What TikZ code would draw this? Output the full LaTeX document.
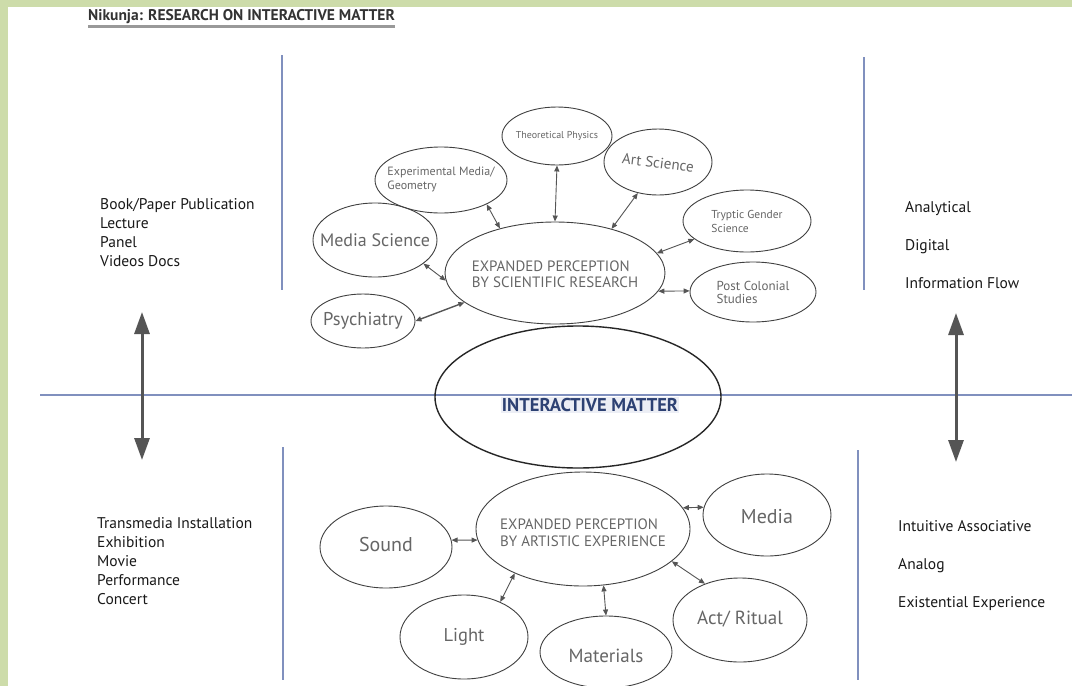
\documentclass[tikz,border=0pt]{standalone}
\usepackage{fontspec}
\setmainfont{PT Sans}
\usetikzlibrary{shapes.geometric,arrows.meta}

\definecolor{framegreen}{RGB}{205,220,170}
\definecolor{rulerblue}{RGB}{128,144,190}
\definecolor{inkgray}{RGB}{85,85,85}
\definecolor{matterblue}{RGB}{45,65,115}

\newcommand{\inbubble}[2][0pt]{\raisebox{\dimexpr-0.25em-#1\relax}[0pt][0pt]{\makebox[0pt]{\begin{tabular}{@{}l@{}}#2\end{tabular}}}}

\tikzset{
    bubble/.style={ellipse, draw=black!75, line width=0.9pt, inner sep=0pt, text=black!60},
    link/.style={{Triangle[length=6pt,width=5pt]}-{Triangle[length=6pt,width=5pt]}, draw=inkgray, line width=0.9pt},
    bigarrow/.style={{Triangle[length=22pt,width=15pt]}-{Triangle[length=22pt,width=15pt]}, draw=inkgray, line width=3pt},
    ruler/.style={draw=rulerblue, line width=1.4pt},
    listtext/.style={anchor=north west, align=left, inner sep=0pt, text=black!90},
}

\begin{document}
\begin{tikzpicture}[x=1pt, y=-1pt]
            \useasboundingbox (0,0) rectangle (1072,686);
            \fill[white] (0,0) rectangle (1072,686);
            \fill[framegreen] (0,0) rectangle (1072,7);
            \fill[framegreen] (0,0) rectangle (8,686);

            \node[anchor=west, inner sep=0pt, font=\bfseries\fontsize{15.5}{17}\selectfont, text=black!80] (title) at (88,17) {Nikunja: RESEARCH ON INTERACTIVE MATTER};
            \draw[black!40, line width=2.5pt] ([yshift=-2pt]title.south west) -- ([yshift=-2pt]title.south east);

            \draw[ruler] (40,395) -- (1072,395);
            \draw[ruler] (282,55) -- (282,290);
            \draw[ruler] (864,57) -- (864,290);
            \draw[ruler] (283,447) -- (283,680);
            \draw[ruler] (858,450) -- (858,680);

            \coordinate (lefttop) at (142,312);
            \coordinate (leftbottom) at (142,460);
            \coordinate (righttop) at (956,313);
            \coordinate (rightbottom) at (956,462);
            \draw[bigarrow] (lefttop) -- (leftbottom);
            \draw[bigarrow] (righttop) -- (rightbottom);

            \node[listtext, font=\fontsize{15.5}{19}\selectfont] (output) at (100,198) {Book/Paper Publication\\Lecture\\Panel\\Videos Docs};
            \node[listtext, font=\fontsize{15.5}{38}\selectfont] (mode) at (905,201) {Analytical\\Digital\\Information Flow};
            \node[listtext, font=\fontsize{15.5}{19.2}\selectfont] (format) at (97,517) {Transmedia Installation\\Exhibition\\Movie\\Performance\\Concert};
            \node[listtext, font=\fontsize{15.5}{38}\selectfont] (sense) at (898,520) {Intuitive Associative\\Analog\\Existential Experience};

            \node[bubble, minimum width=286pt, minimum height=142pt, line width=1.4pt, draw=black!85] (matter) at (578,397) {};
            \node[fill=rulerblue!15, inner sep=1pt, text=matterblue, font=\bfseries\fontsize{18.5}{20}\selectfont] (mattertext) at ([xshift=12pt,yshift=-8pt]matter.center) {INTERACTIVE MATTER};

            \node[bubble, minimum width=220pt, minimum height=102pt, font=\fontsize{15}{16}\selectfont] (sci) at (555,273) {\inbubble[3pt]{EXPANDED PERCEPTION\\BY SCIENTIFIC RESEARCH}};
            \node[bubble, minimum width=124pt, minimum height=74pt, font=\fontsize{18}{20}\selectfont] (mediasci) at (375,240) {\inbubble[2pt]{Media Science}};
            \node[bubble, minimum width=104pt, minimum height=54pt, font=\fontsize{18.5}{20}\selectfont] (psych) at (363,321) {\inbubble{Psychiatry}};
            \node[bubble, minimum width=132pt, minimum height=66pt, font=\fontsize{12}{14}\selectfont] (expmedia) at (441,180) {\inbubble{Experimental Media/\\Geometry}};
            \node[bubble, minimum width=110pt, minimum height=58pt, font=\fontsize{10}{12}\selectfont] (theo) at (557,136) {\inbubble{Theoretical Physics}};
            \node[bubble, minimum width=108pt, minimum height=66pt, font=\fontsize{15}{17}\selectfont] (artsci) at (658,162) {\inbubble{\rotatebox{-7}{Art Science}}};
            \node[bubble, minimum width=128pt, minimum height=62pt, font=\fontsize{11.5}{14}\selectfont] (gender) at (747,221) {\inbubble[2pt]{Tryptic Gender\\Science}};
            \node[bubble, minimum width=126pt, minimum height=60pt, font=\fontsize{13}{13}\selectfont] (postcol) at (753,292) {\inbubble[2pt]{Post Colonial\\Studies}};

            \draw[link] (mediasci.-26) -- (sci.184);
            \draw[link, line width=1.4pt] (psych.0) -- (sci.198);
            \draw[link] (expmedia.-28) -- (sci.141);
            \draw[link] (theo.-90) -- (sci.90);
            \draw[link] (artsci.237) -- (sci.38);
            \draw[link] (gender.199) -- (sci.11);
            \draw[link] (postcol.179) -- (sci.-10);

            \node[bubble, minimum width=214pt, minimum height=114pt, font=\fontsize{15}{17}\selectfont] (art) at (583,529) {\inbubble[5pt]{EXPANDED PERCEPTION\\BY ARTISTIC EXPERIENCE}};
            \node[bubble, minimum width=132pt, minimum height=82pt, font=\fontsize{20}{22}\selectfont] (sound) at (386,547) {\inbubble{Sound}};
            \node[bubble, minimum width=128pt, minimum height=82pt, font=\fontsize{20}{22}\selectfont] (media) at (767,515) {\inbubble[4pt]{Media}};
            \node[bubble, minimum width=128pt, minimum height=84pt, font=\fontsize{18.5}{20}\selectfont] (light) at (464,637) {\inbubble{Light}};
            \node[bubble, minimum width=132pt, minimum height=72pt, font=\fontsize{19}{21}\selectfont] (materials) at (606,652) {\inbubble[6pt]{Materials}};
            \node[bubble, minimum width=134pt, minimum height=84pt, font=\fontsize{19}{21}\selectfont] (ritual) at (740,620) {\inbubble{Act/ Ritual}};

            \draw[link] (sound.6) -- (art.186);
            \draw[link] (art.12) -- (media.173);
            \draw[link] (art.-20) -- (ritual.134);
            \draw[link] (art.213) -- (light.44);
            \draw[link] (art.-70) -- (materials.90);
\end{tikzpicture}
\end{document}
